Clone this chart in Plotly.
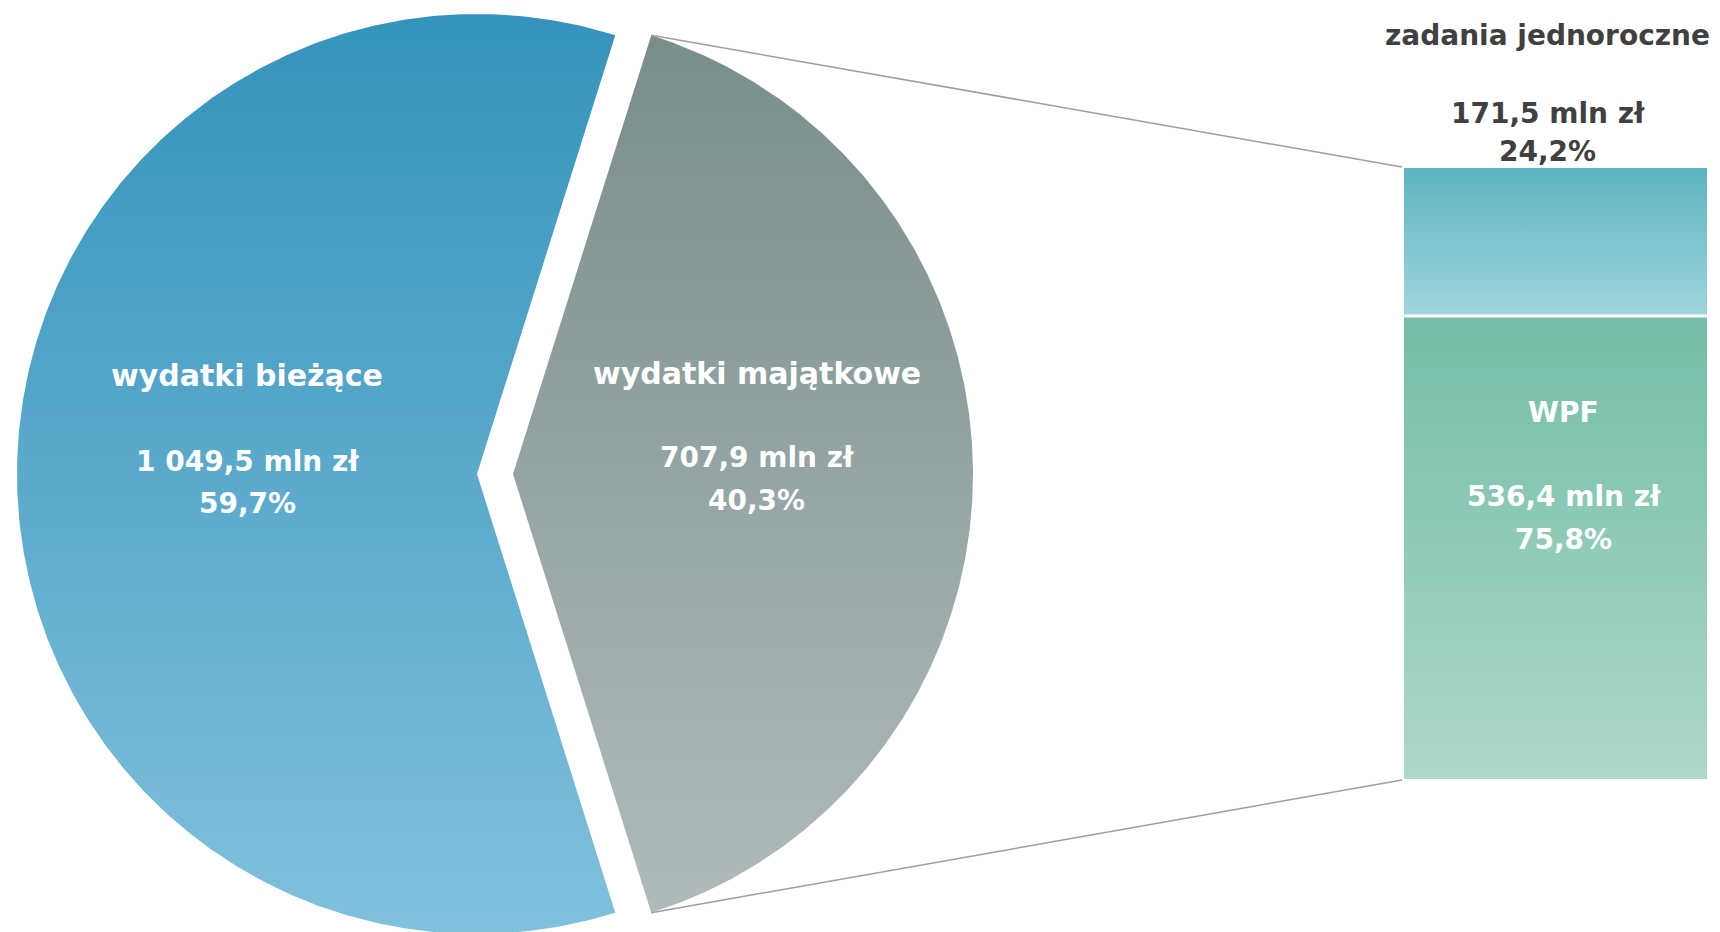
import numpy as np
import plotly.graph_objects as go

# ---- data ----
pie_labels = ["wydatki bieżące", "wydatki majątkowe"]
pie_values = [1049.5, 707.9]
bar_labels = ["WPF", "zadania jednoroczne"]
bar_values = [536.4, 171.5]

pie_top_colors = ["#3593BB", "#788C8C"]
pie_bottom_colors = ["#80C1DC", "#B1BCBC"]
bar_top_colors = ["#74BDA7", "#5BB5C1"]
bar_bottom_colors = ["#ADD8CB", "#A0D5DC"]

W, H = 1720, 932
OFF = 8  # page body margin
FONT = "DejaVu Sans"


def fmt(v):
    s = f"{v:,.1f}".replace(",", " ").replace(".", ",")
    return s + " mln zł"


def pct(v, tot):
    return f"{v / tot * 100:.1f}".replace(".", ",") + "%"


fig = go.Figure()

# ---- pie (bar-of-pie) ----
R = 460
cy = 474
cx_main = 477
explode = 36
total = sum(pie_values)
frac_second = pie_values[1] / total
half = np.pi * frac_second  # half-angle of the second slice, centred at 0 rad

slices = [
    (cx_main, half, 2 * np.pi - half),  # first slice, centred at pi
    (cx_main + explode, -half, half),
]
for i, (cx, a0, a1) in enumerate(slices):
    t = np.linspace(a0, a1, 400)
    xs = np.concatenate([[cx], cx + R * np.cos(t), [cx]])
    ys = np.concatenate([[cy], cy - R * np.sin(t), [cy]])
    fig.add_trace(go.Scatter(
        x=xs, y=ys, mode="lines", fill="toself",
        line=dict(width=0, color="rgba(0,0,0,0)"),
        fillgradient=dict(type="vertical",
                          colorscale=[[0, pie_top_colors[i]], [1, pie_bottom_colors[i]]],
                          start=cy - R, stop=cy + R),
        hoverinfo="skip", showlegend=False,
    ))

# ---- stacked bar ----
bx0, bx1 = 1404, 1707
by_bottom, by_top = 779, 168
bar_total = sum(bar_values)
scale = (by_bottom - by_top) / bar_total
base = by_bottom
seg_bounds = []
for i, v in enumerate(bar_values):
    top = base - v * scale
    gap = 1.5
    y_lo, y_hi = base - (gap if i > 0 else 0), top + (gap if i == 0 else 0)
    xs = [bx0, bx1, bx1, bx0, bx0]
    ys = [y_lo, y_lo, y_hi, y_hi, y_lo]
    fig.add_trace(go.Scatter(
        x=xs, y=ys, mode="lines", fill="toself",
        line=dict(width=0, color="rgba(0,0,0,0)"),
        fillgradient=dict(type="vertical",
                          colorscale=[[0, bar_top_colors[i]], [1, bar_bottom_colors[i]]],
                          start=y_hi, stop=y_lo),
        hoverinfo="skip", showlegend=False,
    ))
    seg_bounds.append((y_hi, y_lo))
    base = top

# ---- connector lines ----
cx2 = cx_main + explode
top_corner = (cx2 + R * np.cos(half), cy - R * np.sin(half))
bot_corner = (cx2 + R * np.cos(-half), cy - R * np.sin(-half))
for (px, py), qy in [(top_corner, by_top - 1), (bot_corner, by_bottom + 1)]:
    fig.add_trace(go.Scatter(
        x=[px, bx0 - 2], y=[py, qy], mode="lines",
        line=dict(color="#9E9E9E", width=1.5),
        hoverinfo="skip", showlegend=False,
    ))

# ---- labels ----
def add_label(x, ys, texts, color, sizes):
    for y, t, s in zip(ys, texts, sizes):
        fig.add_annotation(x=x, y=y, text=f"<b>{t}</b>", showarrow=False,
                           xanchor="center", yanchor="middle",
                           font=dict(family=FONT, size=s, color=color))

FS = 28
FL = 30
add_label(cx_main - 0.5 * R, [cy - 99, cy - 13, cy + 29],
          [pie_labels[0], fmt(pie_values[0]), pct(pie_values[0], total)], "white", [FL, FS, FS])
add_label(cx2 + 0.53 * R, [cy - 101, cy - 17, cy + 26],
          [pie_labels[1], fmt(pie_values[1]), pct(pie_values[1], total)], "white", [FL, FS, FS])

wpf_top = seg_bounds[0][0]
add_label((bx0 + bx1) / 2 + 8, [wpf_top + 95, wpf_top + 179, wpf_top + 222],
          [bar_labels[0], fmt(bar_values[0]), pct(bar_values[0], bar_total)], "white", [FS, FS, FS])
add_label((bx0 + bx1) / 2 - 8, [by_top - 133, by_top - 55, by_top - 17],
          [bar_labels[1], fmt(bar_values[1]), pct(bar_values[1], bar_total)], "#404040", [FS, FS, FS])

fig.update_layout(
    width=W, height=H,
    margin=dict(l=0, r=0, t=0, b=0),
    paper_bgcolor="white", plot_bgcolor="white",
    xaxis=dict(range=[OFF, W + OFF], visible=False, fixedrange=True),
    yaxis=dict(range=[H + OFF, OFF], visible=False, fixedrange=True),
    showlegend=False,
)

fig.write_html("out.html")
